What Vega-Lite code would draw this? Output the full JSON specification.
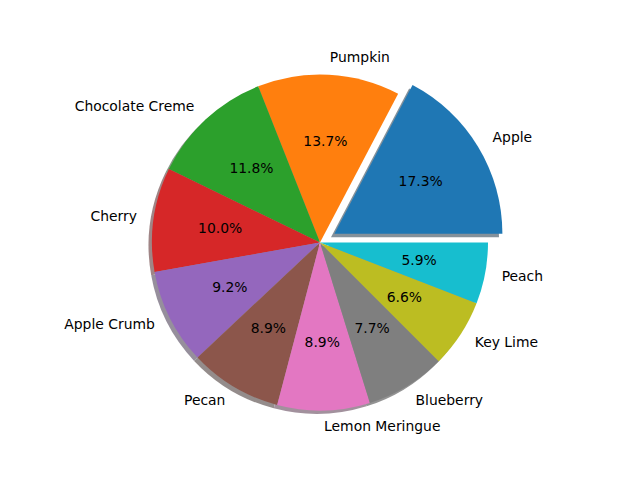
{
  "$schema": "https://vega.github.io/schema/vega-lite/v6.json",
  "autosize": {"type": "fit", "contains": "padding"},
  "width": 640,
  "height": 480,
  "padding": {"top": 5, "left": 0, "right": 0, "bottom": 0},
  "background": "white",
  "view": {"stroke": null},
  "config": {"text": {"font": "DejaVu Sans", "fontSize": 13.9, "color": "black", "baseline": "middle"}},
  "data": {"values": [
    {"i": 1, "pie": "Apple", "pct": 17.3, "label": "17.3%"},
    {"i": 2, "pie": "Pumpkin", "pct": 13.7, "label": "13.7%"},
    {"i": 3, "pie": "Chocolate Creme", "pct": 11.8, "label": "11.8%"},
    {"i": 4, "pie": "Cherry", "pct": 10.0, "label": "10.0%"},
    {"i": 5, "pie": "Apple Crumb", "pct": 9.2, "label": "9.2%"},
    {"i": 6, "pie": "Pecan", "pct": 8.9, "label": "8.9%"},
    {"i": 7, "pie": "Lemon Meringue", "pct": 8.9, "label": "8.9%"},
    {"i": 8, "pie": "Blueberry", "pct": 7.7, "label": "7.7%"},
    {"i": 9, "pie": "Key Lime", "pct": 6.6, "label": "6.6%"},
    {"i": 10, "pie": "Peach", "pct": 5.9, "label": "5.9%"}
  ]},
  "layer": [
    {
      "mark": {"type": "arc", "radius": 168, "xOffset": -3.4, "yOffset": 3.4},
      "encoding": {
        "theta": {"field": "pct", "type": "quantitative", "stack": true, "scale": {"domain": [0, 100], "range": [1.5708, -4.7124]}},
        "order": {"field": "i", "type": "quantitative"},
        "fill": {"field": "pie", "type": "nominal", "legend": null, "sort": null,
          "scale": {"domain": ["Apple","Pumpkin","Chocolate Creme","Cherry","Apple Crumb","Pecan","Lemon Meringue","Blueberry","Key Lime","Peach"],
                    "range": ["#84919b","#a69382","#869886","#a08586","#968f9c","#948c8b","#a2919d","#939393","#9c9c85","#839c9f"]}},
        "opacity": {"condition": {"test": "datum.pie === 'Apple'", "value": 0}, "value": 1}
      }
    },
    {
      "mark": {"type": "arc", "radius": 168, "xOffset": 11.0, "yOffset": -5.3},
      "encoding": {
        "theta": {"field": "pct", "type": "quantitative", "stack": true},
        "order": {"field": "i", "type": "quantitative"},
        "fill": {"field": "pie", "type": "nominal", "legend": null, "sort": null,
          "scale": {"domain": ["Apple","Pumpkin","Chocolate Creme","Cherry","Apple Crumb","Pecan","Lemon Meringue","Blueberry","Key Lime","Peach"],
                    "range": ["#84919b","#a69382","#869886","#a08586","#968f9c","#948c8b","#a2919d","#939393","#9c9c85","#839c9f"]}},
        "opacity": {"condition": {"test": "datum.pie === 'Apple'", "value": 1}, "value": 0}
      }
    },
    {
      "mark": {"type": "arc", "radius": 168},
      "encoding": {
        "theta": {"field": "pct", "type": "quantitative", "stack": true},
        "order": {"field": "i", "type": "quantitative"},
        "color": {"field": "pie", "type": "nominal", "legend": null, "sort": null,
          "scale": {"domain": ["Apple","Pumpkin","Chocolate Creme","Cherry","Apple Crumb","Pecan","Lemon Meringue","Blueberry","Key Lime","Peach"],
                    "range": ["#1f77b4","#ff7f0e","#2ca02c","#d62728","#9467bd","#8c564b","#e377c2","#7f7f7f","#bcbd22","#17becf"]}},
        "opacity": {"condition": {"test": "datum.pie === 'Apple'", "value": 0}, "value": 1}
      }
    },
    {
      "mark": {"type": "arc", "radius": 168, "xOffset": 14.4, "yOffset": -8.7},
      "encoding": {
        "theta": {"field": "pct", "type": "quantitative", "stack": true},
        "order": {"field": "i", "type": "quantitative"},
        "color": {"field": "pie", "type": "nominal", "legend": null, "sort": null,
          "scale": {"domain": ["Apple","Pumpkin","Chocolate Creme","Cherry","Apple Crumb","Pecan","Lemon Meringue","Blueberry","Key Lime","Peach"],
                    "range": ["#1f77b4","#ff7f0e","#2ca02c","#d62728","#9467bd","#8c564b","#e377c2","#7f7f7f","#bcbd22","#17becf"]}},
        "opacity": {"condition": {"test": "datum.pie === 'Apple'", "value": 1}, "value": 0}
      }
    },
    {
      "mark": {"type": "text", "radius": 100.8, "align": "center"},
      "encoding": {
        "theta": {"field": "pct", "type": "quantitative", "stack": true},
        "order": {"field": "i", "type": "quantitative"},
        "detail": {"field": "pie", "type": "nominal"},
        "text": {"field": "label", "type": "nominal"},
        "opacity": {"condition": {"test": "datum.pie === 'Apple'", "value": 0}, "value": 1}
      }
    },
    {
      "mark": {"type": "text", "radius": 100.8, "align": "center", "xOffset": 14.4, "yOffset": -8.7},
      "encoding": {
        "theta": {"field": "pct", "type": "quantitative", "stack": true},
        "order": {"field": "i", "type": "quantitative"},
        "detail": {"field": "pie", "type": "nominal"},
        "text": {"field": "label", "type": "nominal"},
        "opacity": {"condition": {"test": "datum.pie === 'Apple'", "value": 1}, "value": 0}
      }
    },
    {
      "mark": {"type": "text", "radius": 184.8, "align": "left"},
      "encoding": {
        "theta": {"field": "pct", "type": "quantitative", "stack": true},
        "order": {"field": "i", "type": "quantitative"},
        "detail": {"field": "pie", "type": "nominal"},
        "text": {"field": "pie", "type": "nominal"},
        "opacity": {"condition": {"test": "indexof(['Pumpkin','Lemon Meringue','Blueberry','Key Lime','Peach'], datum.pie) >= 0", "value": 1}, "value": 0}
      }
    },
    {
      "mark": {"type": "text", "radius": 184.8, "align": "right"},
      "encoding": {
        "theta": {"field": "pct", "type": "quantitative", "stack": true},
        "order": {"field": "i", "type": "quantitative"},
        "detail": {"field": "pie", "type": "nominal"},
        "text": {"field": "pie", "type": "nominal"},
        "opacity": {"condition": {"test": "indexof(['Chocolate Creme','Cherry','Apple Crumb','Pecan'], datum.pie) >= 0", "value": 1}, "value": 0}
      }
    },
    {
      "mark": {"type": "text", "radius": 184.8, "align": "left", "xOffset": 14.4, "yOffset": -8.7},
      "encoding": {
        "theta": {"field": "pct", "type": "quantitative", "stack": true},
        "order": {"field": "i", "type": "quantitative"},
        "detail": {"field": "pie", "type": "nominal"},
        "text": {"field": "pie", "type": "nominal"},
        "opacity": {"condition": {"test": "datum.pie === 'Apple'", "value": 1}, "value": 0}
      }
    }
  ],
  "resolve": {"scale": {"fill": "independent", "color": "independent"}}
}
